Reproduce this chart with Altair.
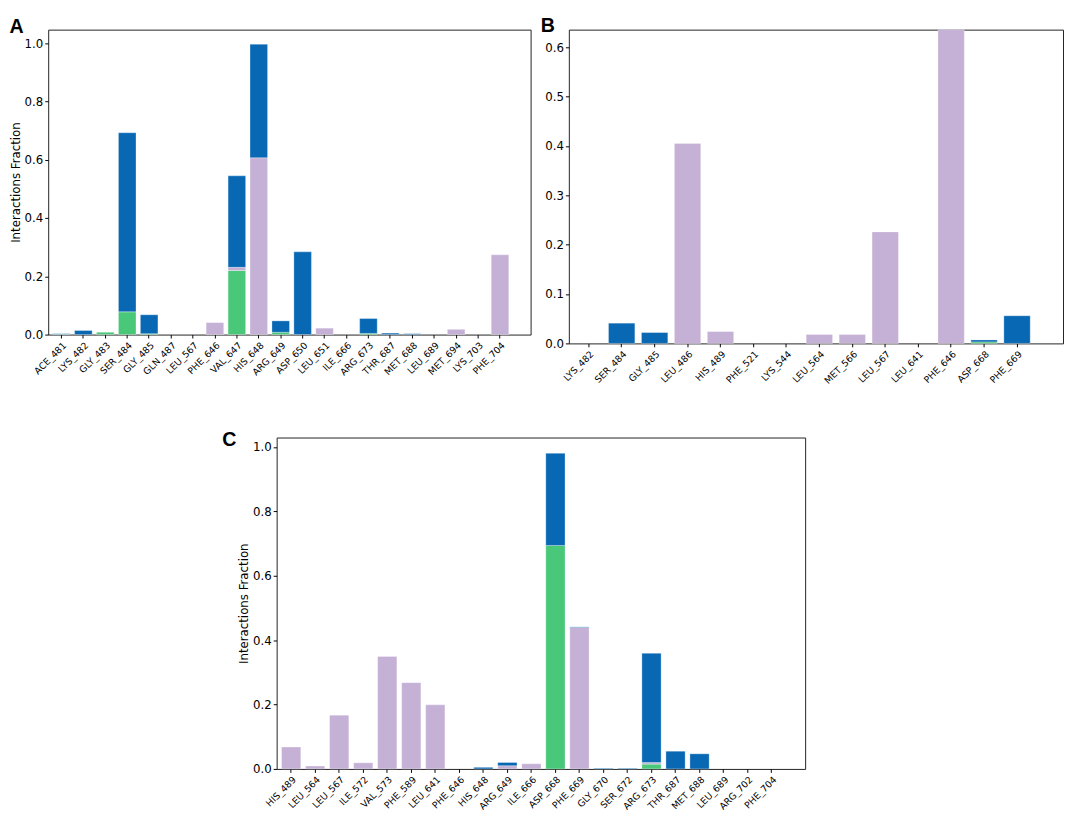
import altair as alt
import pandas as pd

GREEN = "#48c878"
PURPLE = "#c5b0d6"
BLUE = "#0868b4"
TYPES = ["H-bonds", "Hydrophobic", "Water bridges"]

# ---------------- Panel A ----------------
a_residues = ["ACE_481", "LYS_482", "GLY_483", "SER_484", "GLY_485", "GLN_487", "LEU_567",
              "PHE_646", "VAL_647", "HIS_648", "ARG_649", "ASP_650", "LEU_651", "ILE_666",
              "ARG_673", "THR_687", "MET_688", "LEU_689", "MET_694", "LYS_703", "PHE_704"]
a_hbonds = [0.001, 0.0, 0.008, 0.078, 0.003, 0.0, 0.0,
            0.0, 0.220, 0.0, 0.008, 0.0, 0.0, 0.0,
            0.004, 0.0, 0.0, 0.0, 0.0, 0.0, 0.0]
a_hydrophobic = [0.0, 0.0, 0.0, 0.0, 0.0, 0.0, 0.0,
                 0.041, 0.011, 0.607, 0.0, 0.0, 0.022, 0.0,
                 0.0, 0.0, 0.0, 0.0, 0.018, 0.0, 0.274]
a_water = [0.002, 0.014, 0.0, 0.615, 0.065, 0.0, 0.0,
           0.0, 0.314, 0.390, 0.039, 0.284, 0.0, 0.0,
           0.051, 0.005, 0.003, 0.0, 0.0, 0.0, 0.0]
a_ticks = [0.0, 0.2, 0.4, 0.6, 0.8, 1.0]

# ---------------- Panel B ----------------
b_residues = ["LYS_482", "SER_484", "GLY_485", "LEU_486", "HIS_489", "PHE_521", "LYS_544",
              "LEU_564", "MET_566", "LEU_567", "LEU_641", "PHE_646", "ASP_668", "PHE_669"]
b_hbonds = [0.0, 0.0, 0.0, 0.0, 0.0, 0.0, 0.0,
            0.0, 0.0, 0.0, 0.0, 0.0, 0.003, 0.0]
b_hydrophobic = [0.0, 0.0, 0.0, 0.405, 0.024, 0.0, 0.0,
                 0.018, 0.018, 0.226, 0.0, 0.636, 0.0, 0.0]
b_water = [0.0, 0.041, 0.022, 0.0, 0.0, 0.0, 0.0,
           0.0, 0.0, 0.0, 0.0, 0.0, 0.004, 0.056]
b_ticks = [0.0, 0.1, 0.2, 0.3, 0.4, 0.5, 0.6]

# ---------------- Panel C ----------------
c_residues = ["HIS_489", "LEU_564", "LEU_567", "ILE_572", "VAL_573", "PHE_589", "LEU_641",
              "PHE_646", "HIS_648", "ARG_649", "ILE_666", "ASP_668", "PHE_669", "GLY_670",
              "SER_672", "ARG_673", "THR_687", "MET_688", "LEU_689", "ARG_702", "PHE_704"]
c_hbonds = [0.0, 0.0, 0.0, 0.0, 0.0, 0.0, 0.0,
            0.0, 0.0, 0.0, 0.0, 0.694, 0.0, 0.0,
            0.0, 0.015, 0.0, 0.0, 0.0, 0.0, 0.0]
c_hydrophobic = [0.068, 0.009, 0.167, 0.019, 0.349, 0.268, 0.199,
                 0.0, 0.0, 0.010, 0.016, 0.0, 0.439, 0.0,
                 0.0, 0.005, 0.0, 0.0, 0.0, 0.0, 0.0]
c_water = [0.0, 0.0, 0.0, 0.0, 0.0, 0.0, 0.0,
           0.0, 0.005, 0.010, 0.0, 0.286, 0.002, 0.002,
           0.002, 0.339, 0.055, 0.047, 0.0, 0.0, 0.0]
c_ticks = [0.0, 0.2, 0.4, 0.6, 0.8, 1.0]


def long_df(residues, hb, hp, wb):
    rows = []
    for i, r in enumerate(residues):
        for k, vals in enumerate([hb, hp, wb]):
            rows.append({"residue": r, "type": TYPES[k], "order": k, "value": vals[i]})
    return pd.DataFrame(rows)


def panel(residues, hb, hp, wb, ymax, ticks, letter, width, height, ytitle,
          t_offset, t_dx, lab_pad=2, title_pad=2):
    df = long_df(residues, hb, hp, wb)
    yaxis = dict(values=ticks, format=".1f", grid=False, domain=False,
                 tickSize=3.5, tickColor="black", labelColor="black",
                 labelFont="DejaVu Sans", labelFontSize=12, labelPadding=lab_pad)
    if ytitle:
        yaxis.update(title=ytitle, titleFont="DejaVu Sans", titleFontSize=12,
                     titleFontWeight="normal", titleColor="black", titlePadding=title_pad)
    else:
        yaxis.update(title=None)
    return (
        alt.Chart(df)
        .transform_filter("datum.value > 0")
        .mark_bar(stroke="white", strokeWidth=0.6, strokeOpacity=0.5)
        .encode(
            x=alt.X("residue:N", title=None,
                    scale=alt.Scale(domain=residues, paddingInner=0.2, paddingOuter=0.6, align=0.17),
                    axis=alt.Axis(labelAngle=-45, labelFont="DejaVu Sans", labelFontSize=9.5,
                                  labelColor="black", tickColor="black", tickSize=3.5,
                                  labelPadding=2, domain=False, labelOverlap=False)),
            y=alt.Y("value:Q", stack="zero",
                    scale=alt.Scale(domain=[0, ymax], nice=False, zero=True),
                    axis=alt.Axis(**yaxis)),
            color=alt.Color("type:N", legend=None,
                            scale=alt.Scale(domain=TYPES, range=[GREEN, PURPLE, BLUE])),
            order=alt.Order("order:Q", sort="ascending"),
        )
        .properties(
            width=width, height=height,
            title=alt.TitleParams(letter, anchor="start", frame="bounds", font="Liberation Sans",
                                  fontSize=20, fontWeight="bold", color="black",
                                  offset=t_offset, dx=t_dx),
        )
    )


chart_a = panel(a_residues, a_hbonds, a_hydrophobic, a_water, 1.047, a_ticks, "A",
                492, 311, "Interactions Fraction", -7, 0)
chart_b = panel(b_residues, b_hbonds, b_hydrophobic, b_water, 0.636, b_ticks, "B",
                504, 320, None, -7, -4)
chart_c = panel(c_residues, c_hbonds, c_hydrophobic, c_water, 1.029, c_ticks, "C",
                539, 338, "Interactions Fraction", -13, -16)

spacer = (
    alt.Chart(pd.DataFrame({"v": [0]}))
    .mark_point(opacity=0, size=1)
    .encode(x=alt.X("v:Q", axis=None), y=alt.Y("v:Q", axis=None))
    .properties(width=176, height=10, view=alt.ViewBackground(strokeOpacity=0))
)

chart = (
    alt.vconcat(
        alt.hconcat(chart_a, chart_b, spacing=8),
        alt.hconcat(spacer, chart_c, spacing=0),
        spacing=44,
    )
    .properties(padding=0)
    .configure_view(stroke="#222222", strokeWidth=1)
)

chart.save("out.html", embed_options={"renderer": "svg", "actions": False})
